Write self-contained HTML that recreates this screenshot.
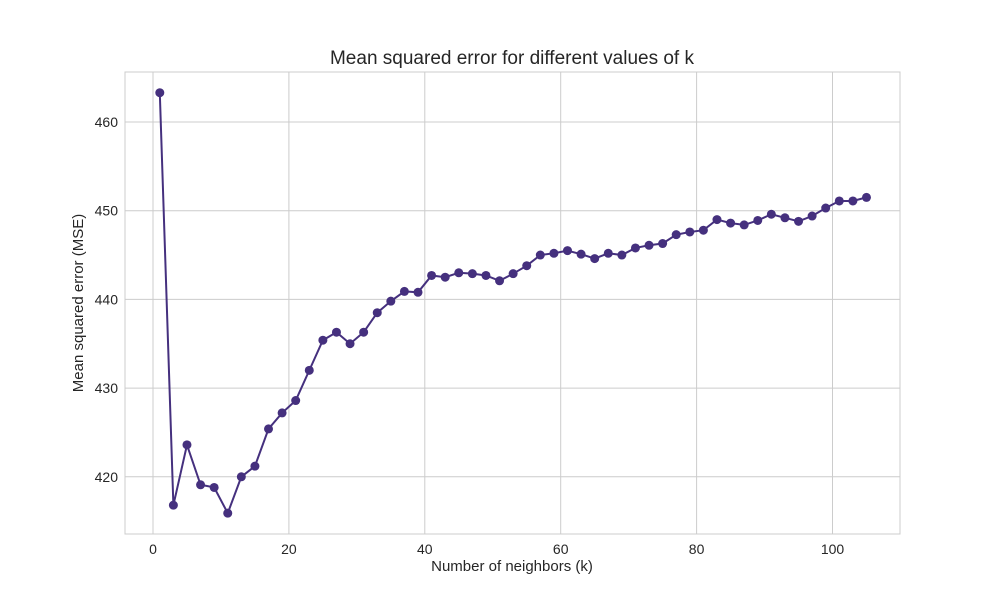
<!DOCTYPE html>
<html><head><meta charset="utf-8"><style>
body{margin:0;background:#fff;}
svg text{font-family:"Liberation Sans","DejaVu Sans",sans-serif;fill:#262626;}
</style></head><body>
<svg id="chart" width="1000" height="600" xmlns="http://www.w3.org/2000/svg"></svg>
<script>
const kValues=[1,3,5,7,9,11,13,15,17,19,21,23,25,27,29,31,33,35,37,39,41,43,45,47,49,51,53,55,57,59,61,63,65,67,69,71,73,75,77,79,81,83,85,87,89,91,93,95,97,99,101,103,105];
const mseValues=[463.3,416.8,423.6,419.1,418.8,415.9,420.0,421.2,425.4,427.2,428.6,432.0,435.4,436.3,435.0,436.3,438.5,439.8,440.9,440.8,442.7,442.5,443.0,442.9,442.7,442.1,442.9,443.8,445.0,445.2,445.5,445.1,444.6,445.2,445.0,445.8,446.1,446.3,447.3,447.6,447.8,449.0,448.6,448.4,448.9,449.6,449.2,448.8,449.4,450.3,451.1,451.1,451.5];
const xTicks=[0,20,40,60,80,100];
const yTicks=[420,430,440,450,460];
const svg=document.getElementById('chart');
const NS='http://www.w3.org/2000/svg';
const L=125,R=900,T=72,B=534;
function xs(v){return 153+v*6.795;}
function ys(v){return 122+(460-v)*8.87;}
function mk(tag,attrs,parent){const e=document.createElementNS(NS,tag);for(const k in attrs)e.setAttribute(k,attrs[k]);(parent||svg).appendChild(e);return e;}
const grid=mk('g',{});


xTicks.forEach(t=>{
  mk('line',{x1:xs(t),x2:xs(t),y1:T,y2:B,stroke:'#cccccc','stroke-width':1},grid);
  const tx=mk('text',{x:xs(t),y:B+20,'text-anchor':'middle','font-size':14});
  tx.textContent=t;
  
  
});
yTicks.forEach(t=>{
  mk('line',{x1:L,x2:R,y1:ys(t),y2:ys(t),stroke:'#cccccc','stroke-width':1},grid);
  const tx=mk('text',{x:L-7,y:ys(t)+5,'text-anchor':'end','font-size':14});
  tx.textContent=t;
  
  
});
const frame=mk('rect',{x:L,y:T,width:R-L,height:B-T,fill:'none',stroke:'#cccccc','stroke-width':1});


const line=mk('polyline',{points:kValues.map((k,i)=>xs(k)+','+ys(mseValues[i])).join(' '),fill:'none',stroke:'#45307e','stroke-width':2});


kValues.forEach((k,i)=>{
  const c=mk('circle',{cx:xs(k),cy:ys(mseValues[i]),r:4.5,fill:'#45307e'});
  
  
});
const title=mk('text',{x:512,y:64,'text-anchor':'middle','font-size':19});
title.textContent='Mean squared error for different values of k';


const xl=mk('text',{x:512,y:571,'text-anchor':'middle','font-size':15});
xl.textContent='Number of neighbors (k)';


const yl=mk('text',{x:0,y:0,'text-anchor':'middle','font-size':15,transform:'translate(83,303) rotate(-90)'});
yl.textContent='Mean squared error (MSE)';


</script>
</body></html>
